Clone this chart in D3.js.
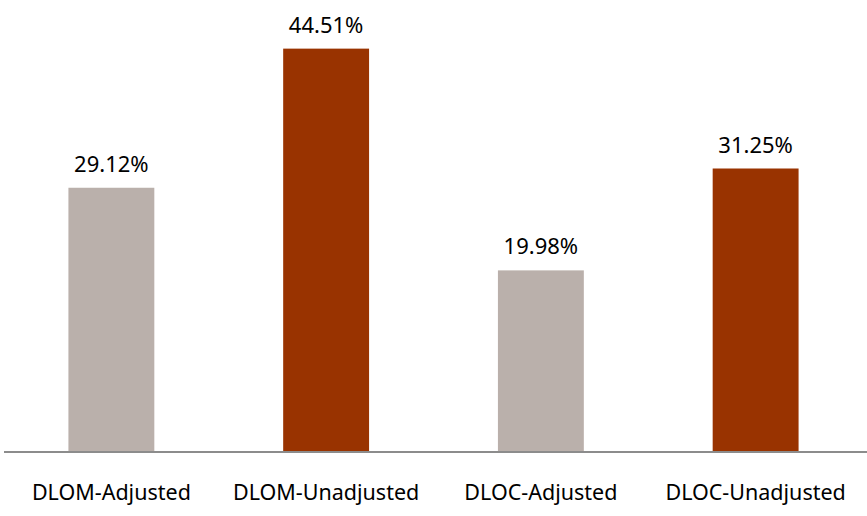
<!DOCTYPE html>
<html>
<head>
<meta charset="utf-8">
<script src="https://cdn.jsdelivr.net/npm/d3@7/dist/d3.min.js"></script>
<style>
  html, body { margin: 0; padding: 0; background: #fff; }
  svg { display: block; }
  text { font-family: "Noto Sans", "Open Sans", sans-serif; fill: #000; }
</style>
</head>
<body>
<svg id="chart" width="867" height="516"></svg>
<script>
// Discount figures (percent)
const categories = ["DLOM-Adjusted", "DLOM-Unadjusted", "DLOC-Adjusted", "DLOC-Unadjusted"];
const values = [29.12, 44.51, 19.98, 31.25];
const barColors = ["#BAB0AB", "#993300", "#BAB0AB", "#993300"];

const svg = d3.select("#chart");
const W = 867, H = 516;
const left = 4, right = 863, baseY = 451;

const x = d3.scaleBand()
  .domain(categories)
  .range([left, right])
  .paddingInner(0.6)
  .paddingOuter(0.3);

const y = d3.scaleLinear()
  .domain([0, 50])
  .range([baseY, -1]);

const data = categories.map((c, i) => ({ cat: c, value: values[i], color: barColors[i] }));

// Bars
svg.append("g")
  .selectAll("rect")
  .data(data)
  .join("rect")
  .attr("x", d => x(d.cat))
  .attr("y", d => y(d.value))
  .attr("width", x.bandwidth())
  .attr("height", d => y(0) - y(d.value))
  .attr("fill", d => d.color);

// Value labels above bars
svg.append("g")
  .selectAll("text")
  .data(data)
  .join("text")
  .attr("x", d => x(d.cat) + x.bandwidth() / 2)
  .attr("y", d => y(d.value) - 16)
  .attr("text-anchor", "middle")
  .style("font-size", "22px")
  .text(d => d.value.toFixed(2) + "%");

// Category axis along the baseline
const axis = svg.append("g")
  .attr("transform", `translate(0,${baseY + 1})`)
  .call(d3.axisBottom(x).tickSize(0).tickPadding(33));
axis.select(".domain")
  .attr("d", `M${left},0H${W}`)
  .attr("stroke", "#8C8C8C")
  .attr("stroke-width", 2);
axis.selectAll("text")
  .style("font-size", "21.5px")
  .style("font-family", '"Noto Sans", "Open Sans", sans-serif')
  .attr("fill", "#000");
</script>
</body>
</html>
